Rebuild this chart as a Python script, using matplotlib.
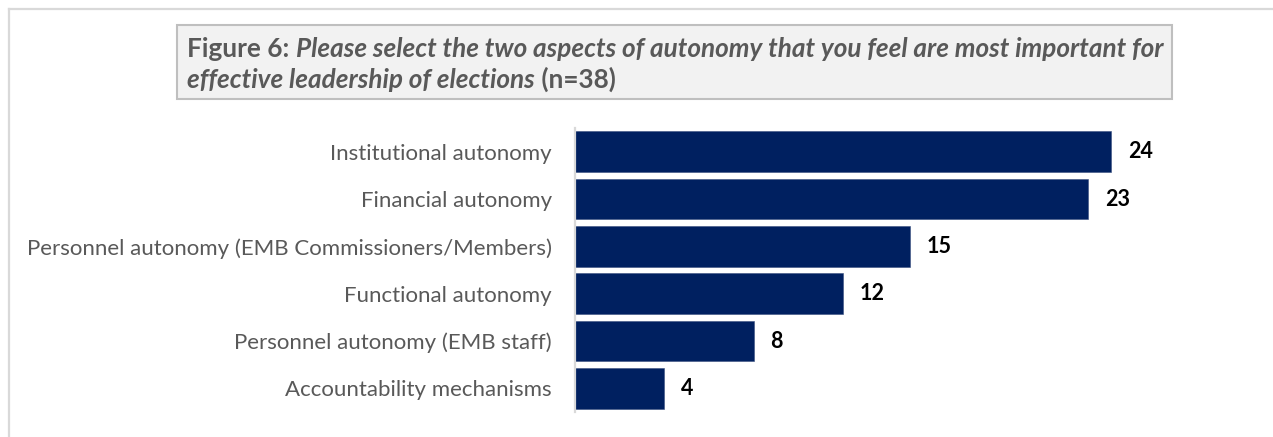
import matplotlib
matplotlib.use("Agg")
import matplotlib.pyplot as plt
from matplotlib.patches import Rectangle

# Survey responses (n=38), two choices per respondent
categories = [
    "Institutional autonomy",
    "Financial autonomy",
    "Personnel autonomy (EMB Commissioners/Members)",
    "Functional autonomy",
    "Personnel autonomy (EMB staff)",
    "Accountability mechanisms",
]
counts = [24, 23, 15, 12, 8, 4]

title_line1 = [("Figure 6: ", "normal", "bold"),
               ("Please select the two aspects of autonomy that you feel are most important for", "italic", "bold")]
title_line2 = [("effective leadership of elections", "italic", "bold"),
               (" (n=38)", "normal", "bold")]

FONT = "Lato"
BAR_COLOR = "#002060"
GREY_TEXT = "#595959"

W, H = 1273, 437
fig = plt.figure(figsize=(W / 100, H / 100), dpi=100)
fig.patch.set_facecolor("white")

def fx(px):
    return px / W

def fy(py):
    return 1 - py / H

# outer frame (top and left edges visible)
fig.add_artist(plt.Line2D([fx(9), 1.0], [fy(9), fy(9)], color="#D9D9D9", lw=1.6))
fig.add_artist(plt.Line2D([fx(9), fx(9)], [fy(9), 0.0], color="#D9D9D9", lw=1.6))

# title box
fig.add_artist(Rectangle((fx(177), fy(99)), fx(1172) - fx(177), fy(25) - fy(99),
                         transform=fig.transFigure, facecolor="#F2F2F2",
                         edgecolor="#BFBFBF", lw=1.5))

# bar chart
ax = fig.add_axes([fx(575), fy(412), fx(1133) - fx(575), fy(128) - fy(412)])
y = list(range(len(categories)))
ax.barh(y, counts, height=0.865, color=BAR_COLOR, edgecolor="#3A5080", linewidth=0.4)
ax.set_xlim(0, 25)
ax.set_ylim(len(categories) - 0.5, -0.5)
ax.set_yticks(y)
ax.set_yticklabels(categories, fontsize=16, color=GREY_TEXT, family=FONT)
ax.tick_params(axis="y", length=0, pad=16.5)
ax.set_xticks([])
for s in ["top", "right", "bottom"]:
    ax.spines[s].set_visible(False)
ax.spines["left"].set_color("#D9D9D9")
ax.spines["left"].set_linewidth(1.6)
ax.set_facecolor("none")

for yi, v in zip(y, counts):
    ax.annotate(str(v), xy=(v, yi), xytext=(17, 0), textcoords="offset pixels",
                va="center", ha="left", fontsize=15.5, fontweight="bold",
                color="black", family=FONT)

# title text, drawn piece by piece so styles can change mid-line
fig.canvas.draw()
renderer = fig.canvas.get_renderer()

def draw_line(pieces, x0_px, baseline_px, size):
    x = x0_px
    for text, style, weight in pieces:
        t = fig.text(fx(x), fy(baseline_px), text, fontsize=size, fontstyle=style,
                     fontweight=weight, color=GREY_TEXT, family=FONT,
                     va="baseline", ha="left")
        bb = t.get_window_extent(renderer=renderer)
        x += bb.width

draw_line(title_line1, 187, 57, 18.8)
draw_line(title_line2, 187, 88, 18.8)

fig.savefig("out.png", dpi=100)
